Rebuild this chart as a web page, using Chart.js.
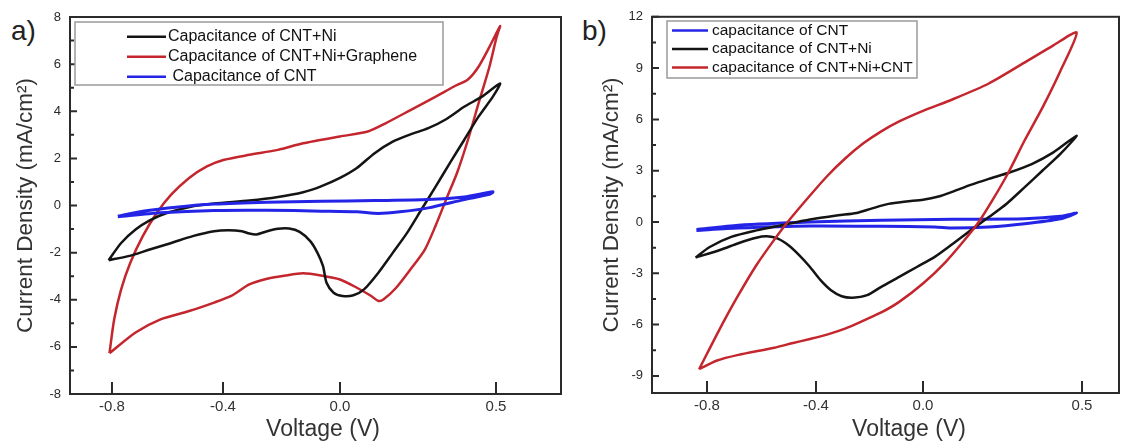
<!DOCTYPE html>
<html>
<head>
<meta charset="utf-8">
<script src="https://cdn.jsdelivr.net/npm/chart.js@4.4.1/dist/chart.umd.min.js"></script>
<style>
  body { margin:0; background:#fff; width:1121px; height:443px; overflow:hidden; position:relative; font-family:"Liberation Sans", Arial, sans-serif; }
  canvas { position:absolute; top:0; }
  #cA { left:0; }
  #cB { left:580px; }
  .tag { position:absolute; font-size:28px; line-height:28px; color:#222; }
</style>
</head>
<body>
<div class="tag" style="left:11px;top:17px">a)</div>
<div class="tag" style="left:582px;top:17px">b)</div>
<canvas id="cA" width="563" height="443"></canvas>
<canvas id="cB" width="541" height="443"></canvas>
<script>
// ---- panel a) data (voltage V, current density mA/cm2), one closed CV loop each
const aNiV = [-0.812,-0.767,-0.715,-0.664,-0.6,-0.52,-0.432,-0.31,-0.212,-0.126,-0.065,0,0.054,0.111,0.169,0.226,0.283,0.34,0.398,0.455,0.513,
  0.49,0.444,0.398,0.352,0.307,0.261,0.215,0.169,0.123,0.077,0.043,0.008,-0.022,-0.046,-0.058,-0.077,-0.101,-0.138,-0.174,-0.212,-0.249,-0.286,-0.31,-0.335,-0.382,-0.432,-0.509,-0.586,-0.664,-0.741,-0.812];
const aNiJ = [-2.32,-1.59,-1.02,-0.63,-0.31,-0.06,0.08,0.21,0.36,0.56,0.81,1.17,1.59,2.22,2.71,3.02,3.28,3.66,4.19,4.62,5.18,
  4.62,3.77,2.78,1.80,0.81,-0.17,-1.16,-2.01,-2.85,-3.56,-3.81,-3.84,-3.70,-3.28,-2.57,-2.01,-1.52,-1.12,-0.98,-0.99,-1.09,-1.23,-1.19,-1.09,-1.05,-1.09,-1.30,-1.59,-1.87,-2.15,-2.32];

const aGrV = [-0.809,-0.792,-0.767,-0.734,-0.689,-0.638,-0.586,-0.522,-0.458,-0.396,-0.31,-0.212,-0.126,0,0.089,0.146,0.226,0.307,0.364,0.41,0.444,0.479,0.513,
  0.502,0.479,0.444,0.41,0.375,0.34,0.306,0.272,0.226,0.18,0.14,0.123,0.1,0.054,0,-0.065,-0.126,-0.186,-0.249,-0.31,-0.372,-0.432,-0.522,-0.625,-0.715,-0.809];
const aGrJ = [-6.27,-4.83,-3.56,-2.43,-1.30,-0.31,0.47,1.17,1.66,1.94,2.15,2.36,2.64,2.93,3.14,3.49,4.05,4.62,5.04,5.35,5.89,6.73,7.61,
  7.15,5.89,4.33,2.78,1.38,0.25,-0.87,-1.87,-2.71,-3.49,-3.98,-4.05,-3.84,-3.49,-3.14,-2.97,-2.88,-2.97,-3.11,-3.35,-3.84,-4.12,-4.48,-4.83,-5.39,-6.27];

const aCntV = [-0.779,-0.689,-0.56,-0.432,-0.249,-0.065,0.111,0.283,0.398,0.49,
  0.479,0.398,0.283,0.192,0.123,0.054,-0.065,-0.249,-0.432,-0.625,-0.779];
const aCntJ = [-0.45,-0.24,-0.06,0.06,0.14,0.18,0.21,0.25,0.36,0.58,
  0.47,0.25,-0.10,-0.27,-0.34,-0.27,-0.24,-0.20,-0.21,-0.31,-0.48];

// ---- panel b)
const bCntV = [-0.839,-0.685,-0.422,-0.156,0.094,0.32,0.432,0.483,
  0.432,0.32,0.207,0.094,0.037,-0.156,-0.422,-0.685,-0.839];
const bCntJ = [-0.45,-0.19,0,0.10,0.16,0.19,0.33,0.52,
  0.19,-0.10,-0.29,-0.35,-0.29,-0.25,-0.23,-0.35,-0.49];

const bNiV = [-0.842,-0.79,-0.711,-0.619,-0.527,-0.422,-0.317,-0.249,-0.196,-0.129,-0.063,0,0.049,0.094,0.15,0.207,0.274,0.342,0.41,0.483,
  0.432,0.376,0.32,0.263,0.207,0.15,0.094,0.037,-0.023,-0.089,-0.156,-0.209,-0.263,-0.304,-0.344,-0.383,-0.422,-0.461,-0.501,-0.54,-0.58,-0.619,-0.685,-0.75,-0.842];
const bNiJ = [-2.08,-1.46,-0.87,-0.49,-0.19,0.14,0.39,0.53,0.77,1.06,1.20,1.30,1.49,1.78,2.17,2.52,2.91,3.39,4.07,5.05,
  3.98,3.01,2.04,1.07,0.29,-0.49,-1.27,-2.04,-2.63,-3.21,-3.79,-4.28,-4.43,-4.34,-3.99,-3.40,-2.63,-1.95,-1.36,-0.97,-0.84,-0.92,-1.24,-1.62,-2.08];

const bNiCntV = [-0.829,-0.79,-0.737,-0.685,-0.619,-0.553,-0.501,-0.422,-0.356,-0.289,-0.223,-0.156,-0.089,0,0.094,0.207,0.319,0.41,0.483,
  0.432,0.376,0.319,0.269,0.218,0.173,0.128,0.071,0,-0.089,-0.156,-0.223,-0.289,-0.356,-0.422,-0.488,-0.553,-0.685,-0.763,-0.829];
const bNiCntJ = [-8.61,-7.39,-5.77,-4.28,-2.53,-1.03,0.06,1.55,2.72,3.74,4.60,5.30,5.88,6.50,7.18,8.10,9.32,10.33,11.07,
  8.83,6.70,4.75,2.91,1.26,-0.06,-1.11,-2.34,-3.60,-4.67,-5.29,-5.77,-6.22,-6.57,-6.84,-7.09,-7.35,-7.77,-8.10,-8.61];

// ---- axes
const xTicks = [-0.8, -0.4, 0.0, 0.5];
const yTicksA = [-8, -6, -4, -2, 0, 2, 4, 6, 8];
const yTicksB = [-9, -6, -3, 0, 3, 6, 9, 12];
// where each x tick sits across the plot width (the figure's x axis is not evenly spaced)
const xFracA = [0.0855, 0.3116, 0.5499, 0.8676];
const xFracB = [0.1178, 0.3512, 0.5803, 0.9208];

function interp(v, from, to) {
  let i = 0;
  while (i < from.length - 2 && v > from[i + 1]) i++;
  return to[i] + (v - from[i]) * (to[i + 1] - to[i]) / (from[i + 1] - from[i]);
}

class WarpScale extends Chart.LinearScale {
  getPixelForValue(value) {
    const k = this.options.knots;
    return this.left + this.width * interp(value, k.vals, k.fracs);
  }
  getValueForPixel(pixel) {
    const k = this.options.knots;
    return interp((pixel - this.left) / this.width, k.fracs, k.vals);
  }
}
WarpScale.id = 'warp';
WarpScale.defaults = {};
Chart.register(WarpScale);

const pts = (v, j) => v.map((x, i) => ({ x: x, y: j[i] }));

const FONT = '"Liberation Sans", Arial, sans-serif';

const framePlugin = {
  id: 'frame',
  afterDraw(chart, args, o) {
    const ctx = chart.ctx, a = chart.chartArea;
    const x = chart.scales.x, y = chart.scales.y;
    ctx.save();
    ctx.strokeStyle = '#2b2b2b';
    ctx.lineWidth = 2;
    ctx.strokeRect(a.left, a.top, a.right - a.left, a.bottom - a.top);
    ctx.beginPath();
    x.ticks.forEach(t => {
      const p = x.getPixelForValue(t.value);
      ctx.moveTo(p, a.bottom); ctx.lineTo(p, a.bottom - 12);
    });
    y.ticks.forEach((t, i) => {
      const p = y.getPixelForValue(t.value);
      ctx.moveTo(a.left, p); ctx.lineTo(a.left + 7, p);
      if (i > 0) {
        const m = y.getPixelForValue((t.value + y.ticks[i - 1].value) / 2);
        ctx.moveTo(a.left, m); ctx.lineTo(a.left + 4, m);
      }
    });
    ctx.stroke();

    // x axis title (sits a little right of the plot centre in the figure)
    ctx.fillStyle = '#333';
    ctx.font = '23px ' + FONT;
    ctx.textAlign = 'center';
    ctx.textBaseline = 'middle';
    ctx.fillText('Voltage (V)', o.xTitleX, chart.height - 13);

    // legend box inside the plot
    const L = o.legend;
    ctx.textAlign = 'left';
    ctx.fillStyle = '#fff';
    ctx.fillRect(L.x, L.y, L.w, L.h);
    ctx.strokeStyle = '#9a9a9a';
    ctx.lineWidth = 1.5;
    ctx.strokeRect(L.x, L.y, L.w, L.h);
    ctx.font = L.font;
    chart.data.datasets.forEach((ds, i) => {
      const ry = L.y + L.first + i * L.row;
      ctx.strokeStyle = ds.borderColor;
      ctx.lineWidth = 2.5;
      ctx.beginPath(); ctx.moveTo(L.x + L.s0, ry); ctx.lineTo(L.x + L.s1, ry); ctx.stroke();
      ctx.fillStyle = '#111';
      ctx.fillText(ds.label, L.x + L.tx, ry);
    });
    ctx.restore();
  }
};

const BLACK = '#141414', RED = '#c4262e', BLUE = '#2424e6';

function line(label, data, color, order, w) {
  return { label: label, data: data, borderColor: color, borderWidth: w || 2.5,
    pointRadius: 0, tension: 0.25, fill: false, order: order };
}

function makeChart(id, datasets, fracs, xr, yTicks, yr, s) {
  return new Chart(document.getElementById(id), {
    type: 'line',
    data: { datasets: datasets },
    options: {
      responsive: false,
      animation: false,
      events: [],
      layout: { padding: { top: s.top, right: 2, left: 0, bottom: 0 } },
      plugins: { legend: { display: false }, tooltip: { enabled: false },
        frame: { legend: s.legend, xTitleX: s.xTitleX } },
      scales: {
        x: {
          type: 'warp',
          knots: { vals: xTicks, fracs: fracs },
          min: xr[0], max: xr[1],
          grid: { display: false, drawTicks: false },
          border: { display: false },
          afterBuildTicks: sc => { sc.ticks = xTicks.map(v => ({ value: v })); },
          afterFit: sc => { sc.height = s.xh; },
          ticks: { padding: 4, color: '#333', font: { family: FONT, size: 15 }, maxRotation: 0,
            callback: v => Number(v).toFixed(1) }
        },
        y: {
          type: 'linear',
          min: yr[0], max: yr[1],
          grid: { display: false, drawTicks: false },
          border: { display: false },
          afterBuildTicks: sc => { sc.ticks = yTicks.map(v => ({ value: v })); },
          afterFit: sc => { sc.width = s.yw; },
          ticks: { padding: 9, color: '#2a2a2a', font: { family: FONT, size: 13 }, callback: v => String(v) },
          title: { display: true, text: 'Current Density (mA/cm²)', color: '#333',
            padding: { top: s.tp, bottom: 0 }, font: { family: FONT, size: 22.5 } }
        }
      }
    },
    plugins: [framePlugin]
  });
}

makeChart('cA', [
  line('Capacitance of CNT+Ni', pts(aNiV, aNiJ), BLACK, 1),
  line('Capacitance of CNT+Ni+Graphene', pts(aGrV, aGrJ), RED, 2),
  line(' Capacitance of CNT', pts(aCntV, aCntJ), BLUE, 0, 3)
], xFracA, [-0.95, 0.71], yTicksA, [-8, 8], {
  top: 17, xh: 49, yw: 70, tp: 12, xTitleX: 323,
  legend: { x: 75, y: 22, w: 368, h: 63, first: 14.7, row: 20, s0: 52, s1: 91, tx: 93,
    font: '16px ' + FONT }
});

makeChart('cB', [
  line('capacitance of CNT', pts(bCntV, bCntJ), BLUE, 2, 3),
  line('capacitance of CNT+Ni', pts(bNiV, bNiJ), BLACK, 1),
  line('capacitance of CNT+Ni+CNT', pts(bNiCntV, bNiCntJ), RED, 0)
], xFracB, [-1.0, 0.62], yTicksB, [-10, 12], {
  top: 16, xh: 50, yw: 72, tp: 18, xTitleX: 329,
  legend: { x: 87, y: 21, w: 250, h: 57, first: 9.5, row: 18.5, s0: 5, s1: 41, tx: 45,
    font: '15.5px ' + FONT }
});
</script>
</body>
</html>
